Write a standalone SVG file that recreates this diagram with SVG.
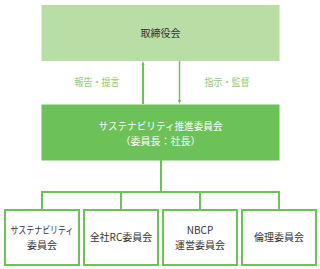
<svg xmlns="http://www.w3.org/2000/svg" width="320" height="269" viewBox="0 0 320 269">
<style>
text{font-family:"Noto Sans CJK JP","Noto Sans",sans-serif;font-size:10px;text-anchor:middle}
.dark{fill:#333333}
.white{fill:#ffffff}
.lbl{fill:#8ccb76}
.sub{fill:#ffffff;stroke:#6cc159;stroke-width:2}
.ln{fill:none;stroke:#6cc159;stroke-width:2}
</style>
<defs>
<marker id="ah" viewBox="0 0 10 10" refX="5" refY="5" markerWidth="4" markerHeight="4" orient="auto-start-reverse" markerUnits="userSpaceOnUse">
<path d="M0,1 L10,5 L0,9 z" fill="#6cc159"/>
</marker>
</defs>
<rect width="320" height="269" fill="#ffffff"/>
<g id="connectors">
<line class="ln" x1="143" y1="104" x2="143" y2="63" marker-end="url(#ah)" style="stroke-width:2"/>
<line class="ln" x1="179.5" y1="61" x2="179.5" y2="102" marker-end="url(#ah)" style="stroke-width:1.5"/>
<path class="ln" d="M161,160 V192 M42,210 V192 H279 V210 M121,192 V210 M200,192 V210"/>
</g>
<g id="board">
<rect x="41.5" y="5" width="238" height="56" fill="#b8dea6"/>
<text class="dark" x="160.5" y="36.5">取締役会</text>
</g>
<g id="label-report"><text class="lbl" x="97" y="86" textLength="45" lengthAdjust="spacingAndGlyphs">報告・提言</text></g>
<g id="label-direct"><text class="lbl" x="227" y="86" textLength="45" lengthAdjust="spacingAndGlyphs">指示・監督</text></g>
<g id="committee">
<rect x="41.5" y="104.5" width="238" height="56" fill="#6cc159"/>
<text class="white" x="160.5" y="130" textLength="124" lengthAdjust="spacingAndGlyphs">サステナビリティ推進委員会</text>
<text class="white" x="160.5" y="145">（委員長：社長）</text>
</g>
<g id="sub1">
<rect class="sub" x="5" y="210" width="74" height="55"/>
<text class="dark" x="42" y="234" textLength="63" lengthAdjust="spacingAndGlyphs">サステナビリティ</text>
<text class="dark" x="42" y="249">委員会</text>
</g>
<g id="sub2">
<rect class="sub" x="84" y="210" width="74" height="55"/>
<text class="dark" x="121" y="241">全社RC委員会</text>
</g>
<g id="sub3">
<rect class="sub" x="163" y="210" width="74" height="55"/>
<text class="dark" x="200" y="234">NBCP</text>
<text class="dark" x="200" y="249">運営委員会</text>
</g>
<g id="sub4">
<rect class="sub" x="242" y="210" width="74" height="55"/>
<text class="dark" x="279" y="241">倫理委員会</text>
</g>
</svg>
